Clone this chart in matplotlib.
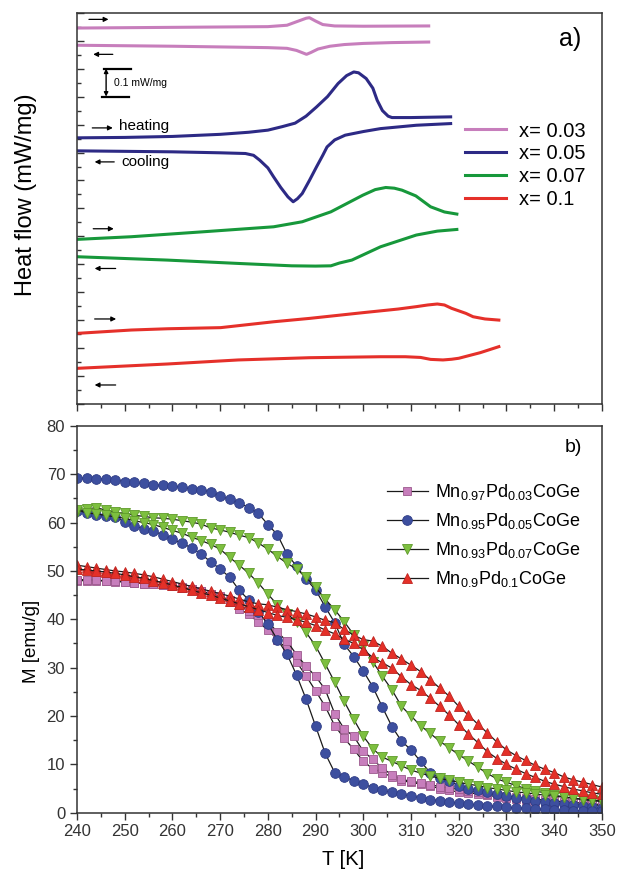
import matplotlib.pyplot as plt
from matplotlib.ticker import MultipleLocator

plt.rcParams['font.family'] = ['Liberation Sans', 'DejaVu Sans']
plt.rcParams['mathtext.default'] = 'regular'

# ---------------- panel a: DSC traces (offset units, 2 units = 0.1 mW/mg)
dsc_labels = ['x= 0.03', 'x= 0.05', 'x= 0.07', 'x= 0.1']

pink_heat_T = [240, 260, 280, 284, 286, 288, 288.7, 290, 291.5, 294, 300, 313.7]
pink_heat_y = [26.9, 26.95, 27.0, 27.1, 27.35, 27.6, 27.64, 27.4, 27.15, 27.05, 27.03, 27.05]
pink_cool_T = [240, 260, 280, 284, 286, 287.5, 288.1, 289, 290.5, 293, 296, 300, 306, 313.7]
pink_cool_y = [25.67, 25.6, 25.5, 25.45, 25.3, 25.1, 25.02, 25.15, 25.4, 25.6, 25.72, 25.8, 25.86, 25.9]

navy_heat_T = [240, 250, 260, 270, 276, 280, 283, 285.7, 288, 290.2, 292.5, 294.7, 296.5, 298.0,
               299, 300.6, 302, 302.9, 304, 305.2, 306, 310, 318.3]
navy_heat_y = [19.05, 19.08, 19.15, 19.3, 19.45, 19.6, 19.85, 20.1, 20.6, 21.26, 22.0, 22.93, 23.5, 23.76,
               23.7, 23.29, 22.6, 21.74, 21.0, 20.6, 20.5, 20.5, 20.55]
navy_cool_T = [240, 260, 270, 275.3, 277, 278.3, 280, 281.2, 282.7, 284.2, 285.3, 286.2, 287.2, 288.7,
               290.2, 291.5, 292.4, 294, 296.2, 300, 303.6, 311.1, 318.3]
navy_cool_y = [18.12, 18.05, 17.98, 17.93, 17.8, 17.45, 16.9, 16.26, 15.5, 14.83, 14.48, 14.7, 15.07, 16.0,
               16.98, 17.8, 18.4, 18.9, 19.24, 19.5, 19.71, 19.95, 20.07]

green_heat_T = [240, 251.4, 266.3, 281.2, 287.2, 293.2, 299.9, 302.5, 304.7, 306.5, 308.1, 311, 314.1, 317, 319.6]
green_heat_y = [11.79, 11.98, 12.33, 12.69, 13.05, 13.76, 14.95, 15.35, 15.5, 15.45, 15.31, 14.9, 14.12, 13.75, 13.6]
green_cool_T = [240, 258.9, 273.8, 285, 290, 293.2, 295, 297.6, 303.6, 311.1, 315.5, 319.6]
green_cool_y = [10.55, 10.31, 10.07, 9.9, 9.88, 9.9, 10.1, 10.31, 11.26, 12.1, 12.38, 12.5]

red_heat_T = [240, 251.4, 259, 270.1, 281.2, 288.7, 299.9, 307.3, 311.1, 313.5, 315.5, 317, 318.5,
              321.5, 323.0, 325.5, 328.4]
red_heat_y = [5.07, 5.31, 5.4, 5.48, 5.9, 6.14, 6.55, 6.81, 6.98, 7.1, 7.17, 7.1, 6.86,
              6.5, 6.26, 6.1, 6.02]
red_cool_T = [240, 258.9, 273.8, 288.7, 303.6, 308.8, 312, 314.1, 316.7, 318.5, 320.0, 324.5, 328.4]
red_cool_y = [2.57, 2.88, 3.17, 3.33, 3.4, 3.4, 3.35, 3.21, 3.17, 3.22, 3.29, 3.69, 4.12]

# ---------------- panel b: M(T)
comp_labels = [r'Mn$_{0.97}$Pd$_{0.03}$CoGe', r'Mn$_{0.95}$Pd$_{0.05}$CoGe',
               r'Mn$_{0.93}$Pd$_{0.07}$CoGe', r'Mn$_{0.9}$Pd$_{0.1}$CoGe']

T_grid = [240, 242, 244, 246, 248, 250, 252, 254, 256, 258, 260, 262, 264, 266, 268, 270, 272, 274,
          276, 278, 280, 282, 284, 286, 288, 290, 292, 294, 296, 298, 300, 302, 304, 306, 308, 310,
          312, 314, 316, 318, 320, 322, 324, 326, 328, 330, 332, 334, 336, 338, 340, 342, 344, 346,
          348, 350]

m_pink_a = [48.0, 48.0, 48.0, 47.9, 47.8, 47.7, 47.6, 47.4, 47.3, 47.1, 46.9, 46.6, 46.3, 45.9, 45.3,
            44.6, 43.5, 42.2, 41.0, 39.4, 37.8, 35.8, 33.8, 31.2, 28.3, 25.2, 22.0, 18.0, 15.4, 13.1,
            10.6, 9.1, 8.3, 7.4, 6.6, 6.3, 5.9, 5.5, 5.0, 4.6, 4.3, 4.1, 3.9, 3.6, 3.3, 3.0, 2.8, 2.6,
            2.4, 2.2, 2.0, 1.9, 1.8, 1.7, 1.6, 1.5]
m_pink_b = [48.2, 48.2, 48.1, 48.0, 47.9, 47.8, 47.6, 47.4, 47.2, 47.0, 46.8, 46.5, 46.2, 45.8, 45.3,
            44.8, 44.0, 43.0, 41.8, 40.8, 39.6, 37.3, 35.5, 32.7, 30.3, 28.2, 25.5, 20.5, 17.3, 15.8,
            12.7, 11.0, 9.2, 7.8, 6.9, 6.5, 6.2, 5.8, 5.4, 5.1, 4.8, 4.5, 4.2, 3.9, 3.7, 3.4, 3.2, 3.0,
            2.8, 2.6, 2.4, 2.3, 2.1, 2.0, 1.8, 1.7]
m_navy_a = [69.2, 69.2, 69.1, 69.0, 68.8, 68.5, 68.3, 68.1, 67.8, 67.7, 67.6, 67.3, 67.0, 66.7, 66.4,
            65.5, 64.8, 64.1, 63.1, 61.9, 59.6, 57.5, 53.5, 51.0, 48.3, 46.1, 42.6, 39.3, 34.8, 32.3,
            29.3, 26.0, 21.8, 17.8, 14.8, 13.0, 10.6, 8.3, 7.1, 6.5, 5.6, 5.0, 4.6, 4.2, 3.8, 3.4, 3.1,
            2.8, 2.5, 2.2, 2.0, 1.7, 1.5, 1.3, 1.1, 1.0]
m_navy_b = [62.5, 62.0, 61.6, 61.3, 61.1, 60.2, 59.3, 58.7, 58.2, 57.5, 56.6, 55.7, 54.8, 53.5, 51.9,
            50.4, 48.7, 46.0, 44.0, 41.6, 39.0, 35.8, 32.8, 28.5, 23.5, 17.9, 12.3, 8.3, 7.4, 6.6, 5.9,
            5.2, 4.6, 4.2, 3.8, 3.4, 3.1, 2.7, 2.5, 2.2, 2.0, 1.8, 1.6, 1.4, 1.3, 1.1, 1.0, 0.9, 0.8,
            0.7, 0.6, 0.5, 0.4, 0.4, 0.3, 0.3]
m_green_a = [62.3, 62.8, 63.1, 62.6, 62.2, 61.9, 61.5, 61.3, 61.0, 60.9, 60.7, 60.4, 60.1, 59.7, 58.9,
             58.5, 58.0, 57.4, 56.9, 55.8, 54.5, 53.0, 51.6, 50.4, 48.7, 46.6, 44.2, 42.0, 39.5, 36.8,
             34.5, 31.2, 28.2, 25.4, 22.0, 20.0, 18.0, 16.4, 14.8, 13.4, 12.0, 10.7, 9.4, 8.1, 7.0, 6.3,
             5.6, 5.0, 4.5, 4.1, 3.6, 3.3, 3.0, 2.7, 2.5, 2.3]
m_green_b = [62.7, 62.0, 61.8, 61.5, 61.2, 60.9, 60.4, 60.0, 59.6, 59.0, 58.4, 57.8, 57.0, 56.3, 55.5,
             54.5, 52.8, 51.2, 49.5, 47.5, 45.2, 43.0, 41.2, 39.5, 37.3, 34.5, 30.8, 27.0, 23.0, 19.3,
             15.8, 13.2, 11.5, 10.6, 9.7, 8.8, 8.2, 7.6, 7.1, 6.7, 6.3, 5.9, 5.6, 5.2, 4.9, 4.6, 4.3,
             4.1, 3.9, 3.6, 3.4, 3.2, 3.0, 2.8, 2.6, 2.4]
m_red_a = [51.2, 50.9, 50.6, 50.3, 50.0, 49.8, 49.5, 49.2, 48.8, 48.3, 47.8, 47.3, 46.8, 46.3, 45.8,
           45.3, 44.8, 44.2, 43.6, 43.2, 43.0, 42.5, 42.0, 41.6, 41.1, 40.5, 39.8, 39.3, 37.9, 36.7,
           35.8, 35.5, 34.4, 33.0, 31.8, 30.5, 29.2, 27.5, 25.8, 24.1, 22.0, 20.2, 18.3, 16.5, 14.6,
           13.0, 11.8, 10.8, 9.8, 9.0, 8.3, 7.4, 6.8, 6.3, 5.8, 5.3]
m_red_b = [50.4, 50.2, 50.0, 49.8, 49.5, 49.2, 48.8, 48.5, 48.0, 47.6, 47.1, 46.6, 46.0, 45.5, 45.0,
           44.4, 43.8, 43.2, 42.6, 42.0, 41.4, 40.8, 40.4, 39.9, 39.4, 38.7, 37.8, 37.0, 35.9, 35.0,
           33.7, 32.1, 31.0, 29.9, 28.1, 26.5, 25.3, 23.7, 22.0, 20.2, 18.2, 16.3, 14.5, 12.6, 11.2,
           10.0, 9.0, 8.1, 7.3, 6.5, 5.9, 5.4, 4.9, 4.5, 4.1, 3.8]

pink, navy, green, red = '#C77EBC', '#2D2A85', '#17983B', '#E5302A'

fig = plt.figure(figsize=(6.19, 8.73), dpi=100)
ax1 = fig.add_axes([0.1244, 0.5369, 0.848, 0.4486])
ax2 = fig.add_axes([0.1244, 0.0691, 0.848, 0.443])

# panel a
lw = 2.2
for (Th, yh, Tc, yc, c, lab) in [(pink_heat_T, pink_heat_y, pink_cool_T, pink_cool_y, pink, dsc_labels[0]),
                                 (navy_heat_T, navy_heat_y, navy_cool_T, navy_cool_y, navy, dsc_labels[1]),
                                 (green_heat_T, green_heat_y, green_cool_T, green_cool_y, green, dsc_labels[2]),
                                 (red_heat_T, red_heat_y, red_cool_T, red_cool_y, red, dsc_labels[3])]:
    ax1.plot(Th, yh, color=c, lw=lw, label=lab, solid_joinstyle='round')
    ax1.plot(Tc, yc, color=c, lw=lw, solid_joinstyle='round')

# direction arrows (tail T, head T, y)
arrows = [(242.5, 246.6, 27.52), (247.5, 243.4, 25.02), (243.2, 247.5, 19.76), (247.8, 243.7, 17.33),
          (243.4, 247.7, 12.55), (248.1, 243.7, 9.71), (243.7, 248.2, 6.1), (248.1, 243.7, 1.38)]
for t0, t1, yy in arrows:
    ax1.annotate('', xy=(t1, yy), xytext=(t0, yy),
                 arrowprops=dict(arrowstyle='-|>', color='k', lw=0.9, mutation_scale=7,
                                 shrinkA=0, shrinkB=0))
ax1.text(248.8, 19.88, 'heating', fontsize=11, va='center', ha='left')
ax1.text(249.3, 17.3, 'cooling', fontsize=11, va='center', ha='left')

# scale bar
ax1.plot([245.6, 251.4], [24.0, 24.0], color='k', lw=1.6)
ax1.plot([245.2, 251.0], [22.0, 22.0], color='k', lw=1.6)
ax1.annotate('', xy=(246.1, 24.0), xytext=(246.1, 22.0),
             arrowprops=dict(arrowstyle='<|-|>', color='k', lw=1.0, mutation_scale=6,
                             shrinkA=0, shrinkB=0))
ax1.text(247.8, 22.95, '0.1 mW/mg', fontsize=7.5, va='center', ha='left')
ax1.text(341.0, 26.1, 'a)', fontsize=18, va='center', ha='left')

ax1.set_xlim(240, 350)
ax1.set_ylim(0, 28)
ax1.xaxis.set_major_locator(MultipleLocator(10))
ax1.xaxis.set_minor_locator(MultipleLocator(5))
ax1.yaxis.set_major_locator(MultipleLocator(2))
ax1.yaxis.set_minor_locator(MultipleLocator(1))
ax1.tick_params(axis='x', which='both', direction='out', labelbottom=False, color='#333333')
ax1.tick_params(axis='x', which='major', length=5, width=1)
ax1.tick_params(axis='x', which='minor', length=3, width=1)
ax1.tick_params(axis='y', which='both', direction='in', labelleft=False, color='#333333')
ax1.tick_params(axis='y', which='major', length=5, width=1)
ax1.tick_params(axis='y', which='minor', length=3, width=1)
ax1.set_ylabel('Heat flow (mW/mg)', fontsize=17)
ax1.yaxis.set_label_coords(-0.076, 0.534)
ax1.legend(loc='upper left', bbox_to_anchor=(0.740, 0.722), frameon=False, fontsize=14.5,
           handlelength=2.03, handletextpad=0.62, labelspacing=0.19, borderpad=0, borderaxespad=0)

# panel b
series = [(m_pink_a, m_pink_b, 's', pink, '#9C5A8E', 6.3),
          (m_navy_a, m_navy_b, 'o', '#3D4F9F', '#2E3C86', 7.0),
          (m_green_a, m_green_b, 'v', '#7DBF3F', '#5E9A2A', 7.5),
          (m_red_a, m_red_b, '^', '#E43028', '#C02420', 7.5)]
for (ma, mb, mk, fc, ec, ms), lab in zip(series, comp_labels):
    for m, l in [(ma, lab), (mb, None)]:
        ax2.plot(T_grid, m, color='#1a1a1a', lw=0.9, marker=mk, ms=ms, mfc=fc, mec=ec, mew=0.6,
                 label=l)

ax2.text(342.3, 75.6, 'b)', fontsize=14, va='center', ha='left')
ax2.set_xlim(240, 350)
ax2.set_ylim(0, 80)
ax2.xaxis.set_major_locator(MultipleLocator(10))
ax2.xaxis.set_minor_locator(MultipleLocator(5))
ax2.yaxis.set_major_locator(MultipleLocator(10))
ax2.yaxis.set_minor_locator(MultipleLocator(5))
ax2.tick_params(which='both', direction='out', labelsize=12, labelcolor='#333333', color='#333333')
ax2.tick_params(which='major', length=5, width=1)
ax2.tick_params(which='minor', length=3, width=1)
ax2.set_xlabel('T [K]', fontsize=14.5)
ax2.set_ylabel('M [emu/g]', fontsize=13.5)
ax2.xaxis.set_label_coords(0.507, -0.0965)
ax2.yaxis.set_label_coords(-0.0705, 0.444)
ax2.legend(loc='upper left', bbox_to_anchor=(0.590, 0.855), frameon=False, fontsize=13,
           handlelength=2.3, handletextpad=0.37, labelspacing=0.5, borderpad=0, borderaxespad=0)

for ax in (ax1, ax2):
    for s in ax.spines.values():
        s.set_color('#333333')
        s.set_linewidth(1.1)

fig.savefig('out.png', dpi=100)
